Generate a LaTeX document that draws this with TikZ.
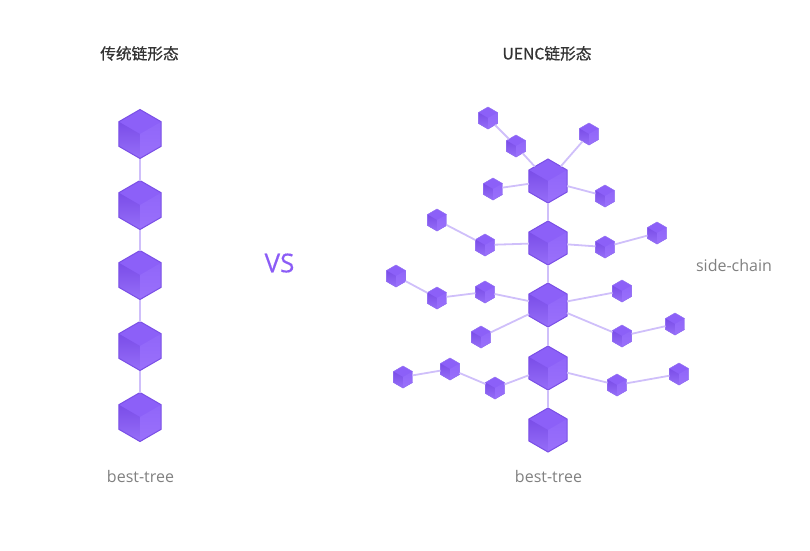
\documentclass[tikz,border=0pt]{standalone}
\usepackage{fontspec}
\usepackage{xcolor}
\usetikzlibrary{shapes.geometric,calc}
\setmainfont{Open Sans}
\newfontfamily\cjk[FakeBold=0.6]{Noto Sans CJK SC}
\newfontfamily\vsfont[FakeBold=0.4]{Open Sans}
\definecolor{edgec}{HTML}{7A4FE6}
\definecolor{edges}{HTML}{9270F2}
\definecolor{topc}{HTML}{8C60F8}
\definecolor{leftc}{HTML}{7A4DE8}
\definecolor{leftl}{HTML}{966EF8}
\definecolor{rightc}{HTML}{9A70FB}
\definecolor{rightl}{HTML}{9066F9}
\definecolor{linkc}{HTML}{CFBFFA}
\definecolor{vsc}{HTML}{8B5CF6}
\definecolor{muted}{HTML}{808080}
\definecolor{title}{HTML}{333333}
\tikzset{
  cube/.style={regular polygon, regular polygon sides=6, shape border rotate=30,
    inner sep=0pt, outer sep=0pt, line width=#1,
    path picture={
      \coordinate (c) at (path picture bounding box.center);
      \coordinate (r) at (path picture bounding box.east);
      \coordinate (t) at (path picture bounding box.north);
      \coordinate (b) at (path picture bounding box.south);
      \coordinate (l) at (path picture bounding box.west);
      \fill[topc] (path picture bounding box.south west) rectangle (path picture bounding box.north east);
      \path[top color=leftc, bottom color=leftl]
        (l |- c) -- ($(l |- t)!0.25!(l |- b)$) -- (c) -- (b) -- (l |- b) -- cycle;
      \path[top color=rightl, bottom color=rightc]
        (r |- c) -- ($(r |- t)!0.25!(r |- b)$) -- (c) -- (b) -- (r |- b) -- cycle;
    }},
  big/.style={cube=1pt, draw=edgec, minimum size=49pt},
  mid/.style={cube=1pt, draw=edgec, minimum size=44pt},
  small/.style={cube=0.5pt, draw=edges, minimum size=22pt},
  link/.style={draw=linkc, line width=1.8pt},
  lab/.style={text=muted, font=\fontsize{16}{18}\selectfont},
  head/.style={text=title, font=\cjk\fontsize{15.7}{18}\selectfont},
}
\begin{document}
\begin{tikzpicture}[x=1pt,y=-1pt]
  \useasboundingbox (0,0) rectangle (810,550);
  % titles
  \node[head] (titleA) at (139.5,53.5) {传统链形态};
  \node[head] (titleB) at (547,53.5) {UENC链形态};
  \node[text=vsc, font=\vsfont\fontsize{26}{30}\selectfont] (vs) at (279.5,263) {VS};
  \node[lab] (bestA) at (140.5,476.5) {best-tree};
  \node[lab] (bestB) at (548.5,476.5) {best-tree};
  \node[lab] (side) at (734,265.5) {side-chain};
  % traditional chain
  \foreach \i/\y in {1/134,2/205,3/275,4/346,5/417}
    \node[big] (a\i) at (140,\y) {};
  \foreach \i/\j in {1/2,2/3,3/4,4/5}
    \draw[link] (a\i) -- (a\j);
  % main chain
  \foreach \i/\y in {1/181,2/243,3/305,4/368,5/430}
    \node[mid] (m\i) at (548,\y) {};
  \foreach \i/\j in {1/2,2/3,3/4,4/5}
    \draw[link] (m\i) -- (m\j);
  % side blocks
  \foreach \n/\x/\y in {s1/488/118,s2/516/146,s3/589/134,s4/493/189,s5/605/196,
    s6/437/220,s7/485/245,s8/605/247,s9/657/233,
    s10/396/276,s11/437/298,s12/485/292,s13/622/291,s14/481/337,s15/622/336,s16/675/324,
    s17/403/377,s18/450/369,s19/495/388,s20/617/385,s21/679/374}
    \node[small] (\n) at (\x,\y) {};
  \foreach \p/\q in {s1/s2,s2/m1,s3/m1,s4/m1,s5/m1,
    s6/s7,s7/m2,s8/m2,s8/s9,
    s10/s11,s11/s12,s12/m3,s13/m3,s14/m3,s15/m3,s15/s16,
    s17/s18,s18/s19,s19/m4,s20/m4,s20/s21}
    \draw[link] (\p) -- (\q);
\end{tikzpicture}
\end{document}
